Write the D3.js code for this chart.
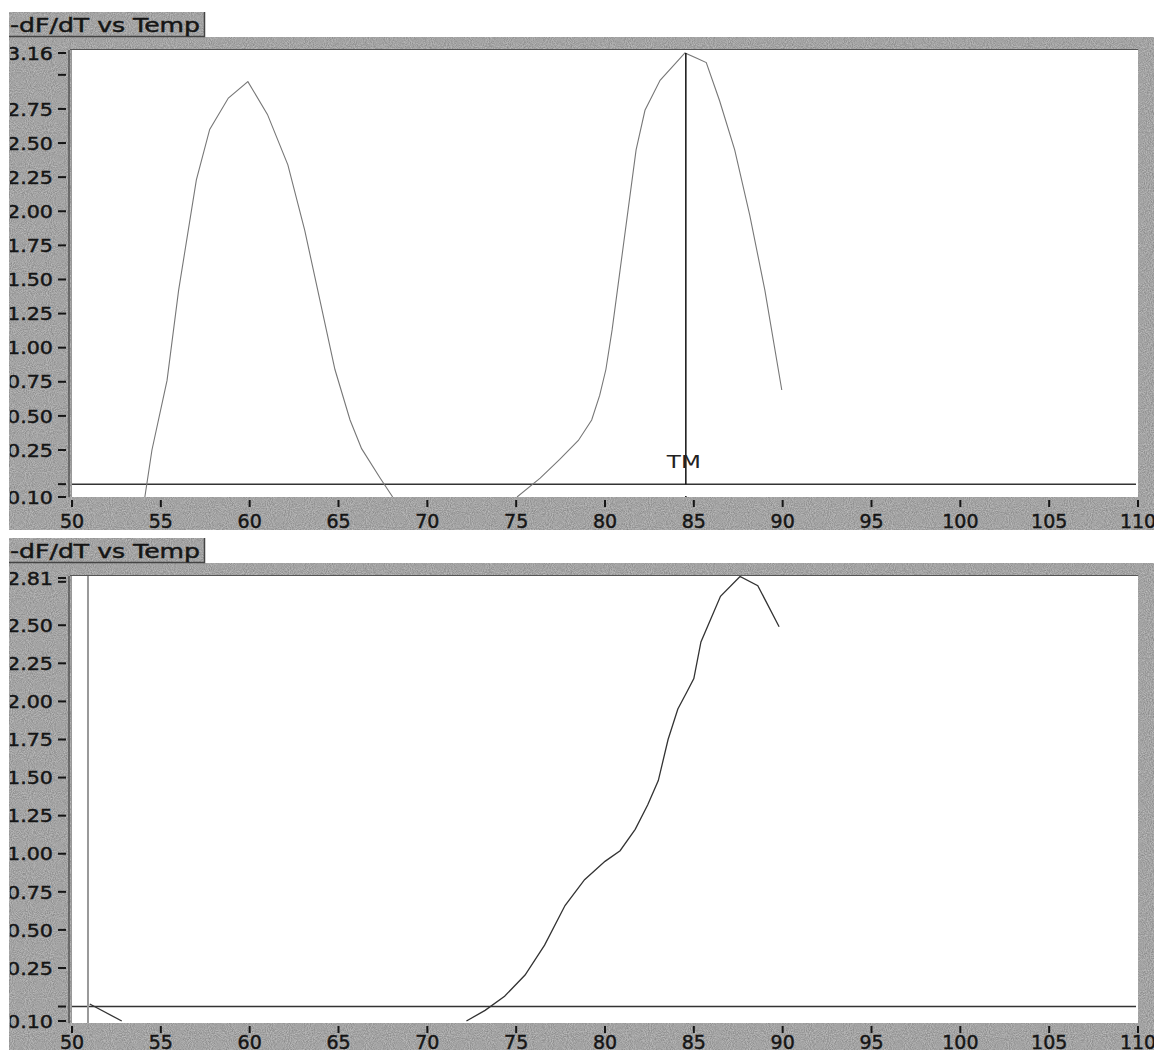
<!DOCTYPE html>
<html>
<head>
<meta charset="utf-8">
<script src="https://cdn.jsdelivr.net/npm/d3@7"></script>
<style>
  body { margin: 0; background: #fff; }
  svg { display: block; }
  text { font-family: "DejaVu Sans", sans-serif; fill: #151515; stroke: #151515; stroke-width: 0.45px; }
</style>
</head>
<body>
<div class="chart"></div>
<script>
// x axis (temperature)
var xTicks = [50, 55, 60, 65, 70, 75, 80, 85, 90, 95, 100, 105, 110];

// top panel: y ticks, labels, curves
var topYTicks = [3.16, 3.00, 2.75, 2.50, 2.25, 2.00, 1.75, 1.50, 1.25, 1.00, 0.75, 0.50, 0.25, 0.141, 0.10];
var topYLabels = ["3.16", "", "2.75", "2.50", "2.25", "2.00", "1.75", "1.50", "1.25", "1.00", "0.75", "0.50", "0.25", "", "0.10"];
var topPeak1T = [54.1, 54.5, 55.35, 56.0, 57.0, 57.75, 58.8, 59.9, 61.0, 62.15, 63.1, 63.95, 64.8, 65.65, 66.3, 67.35, 68.05];
var topPeak1V = [0.10, 0.25, 0.76, 1.42, 2.23, 2.60, 2.83, 2.95, 2.71, 2.34, 1.86, 1.35, 0.84, 0.47, 0.26, 0.16, 0.10];
var topPeak2T = [75.05, 76.35, 77.45, 78.5, 79.25, 79.7, 80.05, 80.4, 80.85, 81.3, 81.75, 82.25, 83.1, 84.5, 85.2, 85.7, 86.45, 87.3, 88.15, 89.0, 89.95];
var topPeak2V = [0.10, 0.16, 0.22, 0.32, 0.47, 0.65, 0.84, 1.13, 1.57, 2.01, 2.45, 2.74, 2.96, 3.16, 3.12, 3.09, 2.81, 2.45, 1.97, 1.42, 0.69];
var topThreshold = 0.141;
var topCursorT = 84.55;

// bottom panel
var botYTicks = [2.81, 2.785, 2.50, 2.25, 2.00, 1.75, 1.50, 1.25, 1.00, 0.75, 0.50, 0.25, 0.141, 0.10];
var botYLabels = ["2.81", "", "2.50", "2.25", "2.00", "1.75", "1.50", "1.25", "1.00", "0.75", "0.50", "0.25", "", "0.10"];
var botStubT = [51.0, 52.8];
var botStubV = [0.148, 0.10];
var botCurveT = [72.2, 73.25, 74.35, 75.5, 76.6, 77.75, 78.85, 80.0, 80.85, 81.7, 82.4, 83.0, 83.55, 84.1, 84.6, 85.0, 85.4, 86.5, 87.6, 88.6, 89.8];
var botCurveV = [0.10, 0.13, 0.17, 0.23, 0.40, 0.66, 0.83, 0.95, 1.02, 1.16, 1.32, 1.48, 1.75, 1.95, 2.06, 2.15, 2.39, 2.69, 2.82, 2.76, 2.49];
var botThreshold = 0.141;
var botCursorT = 50.9;

var W = 1154, H = 1050;
var gray = "#a3a3a3";

var svg = d3.select(".chart").append("svg")
    .attr("width", W)
    .attr("height", H);

// grainy gray like the scanned panel
var grain = svg.append("defs").append("filter")
    .attr("id", "grain")
    .attr("color-interpolation-filters", "sRGB")
    .attr("x", 0).attr("y", 0).attr("width", "100%").attr("height", "100%");
grain.append("feTurbulence")
    .attr("type", "fractalNoise")
    .attr("baseFrequency", 0.95)
    .attr("numOctaves", 2)
    .attr("seed", 3)
    .attr("result", "n");
grain.append("feColorMatrix")
    .attr("in", "n")
    .attr("type", "matrix")
    .attr("values", "0.3 0 0 0 0.49  0.3 0 0 0 0.49  0.3 0 0 0 0.49  0 0 0 0 1")
    .attr("result", "g");
grain.append("feComposite")
    .attr("in", "g").attr("in2", "SourceAlpha").attr("operator", "in");

function zip(ts, vs) {
    return ts.map(function(t, i) { return [t, vs[i]]; });
}

function drawPanel(p) {
    var g = svg.append("g")
        .attr("transform", "translate(0," + p.offset + ")");

    var plotL = 72, plotR = 1138, plotT = 50, plotB = 497;

    var x = d3.scaleLinear().domain([50, 110]).range([plotL, plotR]);
    var y = d3.scaleLinear().domain(p.yDomain).range(p.yRange);

    // gray frame + title tab
    var frame = g.append("g").attr("filter", "url(#grain)");
    frame.append("rect").attr("x", 9).attr("y", 12).attr("width", 195).attr("height", 24).attr("fill", gray);
    frame.append("rect").attr("x", 9).attr("y", 37).attr("width", W - 9).attr("height", plotT - 37).attr("fill", gray);
    frame.append("rect").attr("x", 9).attr("y", 37).attr("width", plotL - 9).attr("height", p.bandBottom - 37).attr("fill", gray);
    frame.append("rect").attr("x", plotR).attr("y", 37).attr("width", W - plotR).attr("height", p.bandBottom - 37).attr("fill", gray);
    frame.append("rect").attr("x", 9).attr("y", plotB).attr("width", W - 9).attr("height", p.bandBottom - plotB).attr("fill", gray);

    g.append("path")
        .attr("d", "M9,36.5H204.5V12")
        .attr("fill", "none").attr("stroke", "#444").attr("stroke-width", 1.5);
    g.append("text")
        .attr("x", 10).attr("y", 32)
        .attr("textLength", 190).attr("lengthAdjust", "spacingAndGlyphs")
        .style("font-size", "19px")
        .text("-dF/dT vs Temp");

    // plot background
    g.append("rect")
        .attr("x", plotL).attr("y", plotT)
        .attr("width", plotR - plotL).attr("height", plotB - plotT)
        .attr("fill", "#fff");

    // frame edges
    g.append("line").attr("x1", plotL - 2).attr("x2", plotR).attr("y1", plotT - 0.5).attr("y2", plotT - 0.5)
        .attr("stroke", "#555").attr("stroke-width", 1.2);
    g.append("line").attr("x1", plotL - 3).attr("x2", plotL - 3).attr("y1", plotT).attr("y2", plotB)
        .attr("stroke", "#444").attr("stroke-width", 1.2);
    g.append("line").attr("x1", plotL - 0.5).attr("x2", plotL - 0.5).attr("y1", plotT).attr("y2", plotB)
        .attr("stroke", "#999").attr("stroke-width", 1);

    // y axis ticks + labels
    var yTickG = g.append("g");
    var clipId = "lab" + p.offset;
    g.append("clipPath").attr("id", clipId)
        .append("rect").attr("x", 10).attr("y", 37).attr("width", plotL - 10).attr("height", p.bandBottom - 37);
    yTickG.attr("clip-path", "url(#" + clipId + ")");
    var yt = yTickG.selectAll(".yt")
        .data(p.yTicks)
        .enter().append("g")
        .attr("class", "yt")
        .attr("transform", function(d) { return "translate(0," + y(d) + ")"; });
    yt.append("line")
        .attr("x1", 58).attr("x2", 66)
        .attr("stroke", "#151515").attr("stroke-width", 2);
    yt.filter(function(d, i) { return p.yLabels[i] !== ""; })
        .append("text")
        .attr("x", 53).attr("dy", "0.36em")
        .attr("text-anchor", "end")
        .attr("textLength", 46).attr("lengthAdjust", "spacingAndGlyphs")
        .style("font-size", "18.5px")
        .text(function(d) { return p.yLabels[p.yTicks.indexOf(d)]; });

    // x axis ticks + labels
    var xt = g.selectAll(".xt")
        .data(xTicks)
        .enter().append("g")
        .attr("class", "xt")
        .attr("transform", function(d) { return "translate(" + x(d) + ",0)"; });
    xt.append("line")
        .attr("y1", plotB + 3).attr("y2", plotB + 10)
        .attr("stroke", "#151515").attr("stroke-width", 2);
    xt.append("text")
        .attr("y", p.xLabelY)
        .attr("text-anchor", "middle")
        .style("font-size", "19px")
        .text(function(d) { return d; });

    // clip for data
    var dataClip = "data" + p.offset;
    g.append("clipPath").attr("id", dataClip)
        .append("rect").attr("x", plotL).attr("y", plotT).attr("width", plotR - plotL).attr("height", plotB - plotT);
    var dg = g.append("g").attr("clip-path", "url(#" + dataClip + ")");

    // threshold line
    dg.append("line")
        .attr("x1", plotL).attr("x2", plotR - 2)
        .attr("y1", y(p.threshold)).attr("y2", y(p.threshold))
        .attr("stroke", "#333").attr("stroke-width", 1.5);

    var line = d3.line()
        .x(function(d) { return x(d[0]); })
        .y(function(d) { return y(d[1]); });

    p.curves.forEach(function(c) {
        dg.append("path")
            .datum(c)
            .attr("fill", "none")
            .attr("stroke", p.curveColor)
            .attr("stroke-width", p.curveWidth)
            .attr("d", line);
    });

    return { g: g, dg: dg, x: x, y: y, plotT: plotT, plotB: plotB };
}

var topP = drawPanel({
    offset: 0,
    bandBottom: 530,
    xLabelY: 528,
    yDomain: [0.10, 0.25, 3.16],
    yRange: [497, 450, 53],
    yTicks: topYTicks,
    yLabels: topYLabels,
    threshold: topThreshold,
    curves: [zip(topPeak1T, topPeak1V), zip(topPeak2T, topPeak2V)],
    curveColor: "#777",
    curveWidth: 1.1
});

// TM cursor
topP.dg.append("line")
    .attr("x1", topP.x(topCursorT)).attr("x2", topP.x(topCursorT))
    .attr("y1", topP.y(3.16)).attr("y2", topP.y(topThreshold))
    .attr("stroke", "#111").attr("stroke-width", 1.5);
topP.dg.append("line")
    .attr("x1", topP.x(topCursorT)).attr("x2", topP.x(topCursorT))
    .attr("y1", topP.plotB - 1).attr("y2", topP.plotB + 4)
    .attr("stroke", "#111").attr("stroke-width", 1.5);
topP.g.append("text")
    .attr("x", topP.x(topCursorT) - 19)
    .attr("y", 468)
    .attr("textLength", 34).attr("lengthAdjust", "spacingAndGlyphs")
    .style("font-size", "18px")
    .style("fill", "#222").style("stroke", "none")
    .text("TM");

var botP = drawPanel({
    offset: 526,
    bandBottom: 560,
    xLabelY: 523,
    yDomain: [0.10, 0.25, 2.81],
    yRange: [495, 442, 52],
    yTicks: botYTicks,
    yLabels: botYLabels,
    threshold: botThreshold,
    curves: [zip(botStubT, botStubV), zip(botCurveT, botCurveV)],
    curveColor: "#333",
    curveWidth: 1.3
});

// bottom cursor (gray)
botP.dg.append("line")
    .attr("x1", botP.x(botCursorT)).attr("x2", botP.x(botCursorT))
    .attr("y1", botP.plotT).attr("y2", botP.plotB)
    .attr("stroke", "#999").attr("stroke-width", 2);
</script>
</body>
</html>
